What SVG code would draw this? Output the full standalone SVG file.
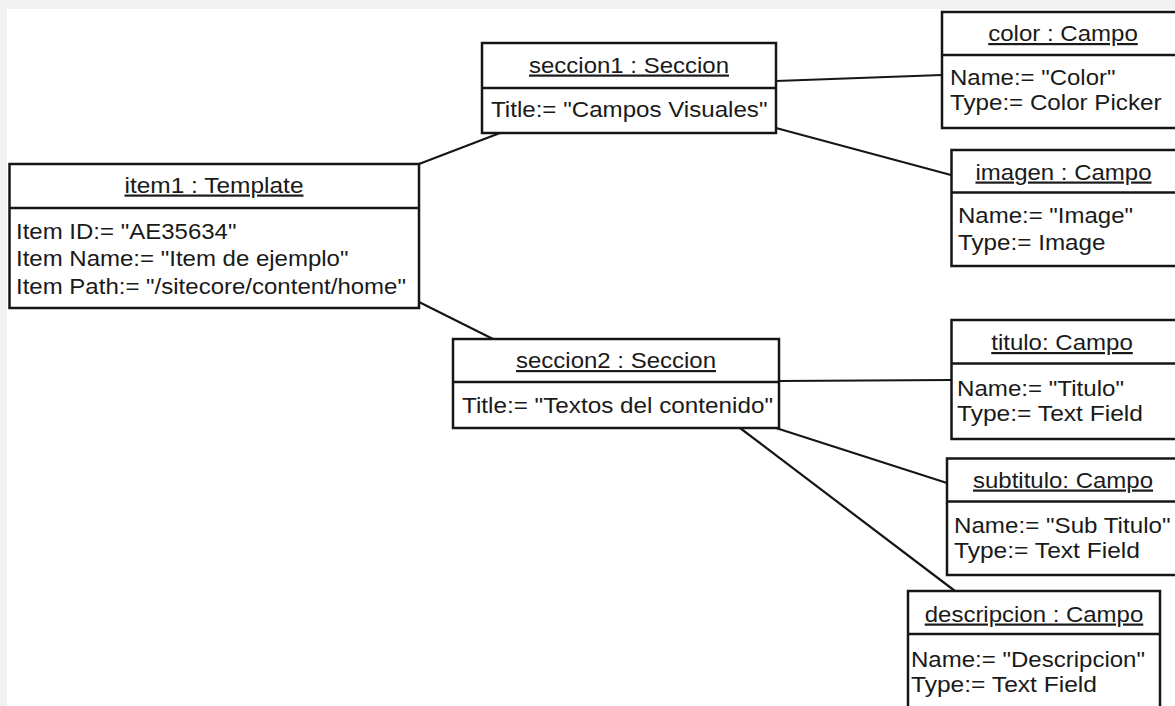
<svg xmlns="http://www.w3.org/2000/svg" width="1175" height="706" viewBox="0 0 1175 706">
  <style>
    .box { fill: #ffffff; stroke: #161616; stroke-width: 2.5; }
    .div { stroke: #161616; stroke-width: 2.5; }
    .link { stroke: #161616; stroke-width: 2.2; fill: none; stroke-linecap: round; }
    text { font-family: "Liberation Sans", Arial, sans-serif; font-size: 22px; fill: #1a1a1a; }
    .name { text-anchor: middle; text-decoration: underline; }
  </style>

  <!-- page with a pale frame along top and left -->
  <rect x="0" y="0" width="1175" height="706" fill="#f1f1f1"/>
  <rect x="7" y="9" width="1168" height="697" fill="#ffffff"/>

  <!-- associations -->
  <g id="connectors">
    <line class="link" x1="419" y1="164" x2="500" y2="133"/>
    <line class="link" x1="419" y1="302" x2="493" y2="339"/>
    <line class="link" x1="776" y1="81" x2="942" y2="75"/>
    <line class="link" x1="776" y1="128" x2="951" y2="175"/>
    <line class="link" x1="779" y1="381" x2="951" y2="380"/>
    <line class="link" x1="776" y1="428" x2="947" y2="483"/>
    <line class="link" x1="740" y1="428" x2="955" y2="591"/>
  </g>

  <g id="item1">
    <rect class="box" x="9.5" y="164" width="409.5" height="144"/>
    <line class="div" x1="9.5" y1="208" x2="419" y2="208"/>
    <text class="name" x="214" y="192.5" textLength="179" lengthAdjust="spacingAndGlyphs">item1 : Template</text>
    <text x="16" y="238.5" textLength="220.5" lengthAdjust="spacingAndGlyphs">Item ID:= "AE35634"</text>
    <text x="16" y="266" textLength="332.5" lengthAdjust="spacingAndGlyphs">Item Name:= "Item de ejemplo"</text>
    <text x="16" y="293.5" textLength="390" lengthAdjust="spacingAndGlyphs">Item Path:= "/sitecore/content/home"</text>
  </g>

  <g id="seccion1">
    <rect class="box" x="482" y="43" width="294" height="90"/>
    <line class="div" x1="482" y1="88" x2="776" y2="88"/>
    <text class="name" x="629" y="72.5" textLength="200" lengthAdjust="spacingAndGlyphs">seccion1 : Seccion</text>
    <text x="491" y="117" textLength="276.5" lengthAdjust="spacingAndGlyphs">Title:= "Campos Visuales"</text>
  </g>

  <g id="seccion2">
    <rect class="box" x="453" y="339" width="326" height="89"/>
    <line class="div" x1="453" y1="382" x2="779" y2="382"/>
    <text class="name" x="616" y="368" textLength="200" lengthAdjust="spacingAndGlyphs">seccion2 : Seccion</text>
    <text x="462" y="413" textLength="311" lengthAdjust="spacingAndGlyphs">Title:= "Textos del contenido"</text>
  </g>

  <g id="color">
    <rect class="box" x="942" y="12" width="242" height="116"/>
    <line class="div" x1="942" y1="55" x2="1184" y2="55"/>
    <text class="name" x="1063" y="41" textLength="149.5" lengthAdjust="spacingAndGlyphs">color : Campo</text>
    <text x="950" y="85" textLength="165.5" lengthAdjust="spacingAndGlyphs">Name:= "Color"</text>
    <text x="950" y="109.5" textLength="211.5" lengthAdjust="spacingAndGlyphs">Type:= Color Picker</text>
  </g>

  <g id="imagen">
    <rect class="box" x="951.5" y="150" width="240" height="116"/>
    <line class="div" x1="951.5" y1="192.5" x2="1191.5" y2="192.5"/>
    <text class="name" x="1063.5" y="179.5" textLength="176" lengthAdjust="spacingAndGlyphs">imagen : Campo</text>
    <text x="958" y="223" textLength="175" lengthAdjust="spacingAndGlyphs">Name:= "Image"</text>
    <text x="958" y="250" textLength="147.5" lengthAdjust="spacingAndGlyphs">Type:= Image</text>
  </g>

  <g id="titulo">
    <rect class="box" x="951.5" y="320" width="240" height="119"/>
    <line class="div" x1="951.5" y1="363.5" x2="1191.5" y2="363.5"/>
    <text class="name" x="1062" y="350" textLength="141.5" lengthAdjust="spacingAndGlyphs">titulo: Campo</text>
    <text x="957" y="396" textLength="167" lengthAdjust="spacingAndGlyphs">Name:= "Titulo"</text>
    <text x="957" y="421" textLength="186" lengthAdjust="spacingAndGlyphs">Type:= Text Field</text>
  </g>

  <g id="subtitulo">
    <rect class="box" x="947" y="458.5" width="240" height="116.5"/>
    <line class="div" x1="947" y1="501.5" x2="1187" y2="501.5"/>
    <text class="name" x="1063" y="487.5" textLength="180" lengthAdjust="spacingAndGlyphs">subtitulo: Campo</text>
    <text x="954" y="533" textLength="216.5" lengthAdjust="spacingAndGlyphs">Name:= "Sub Titulo"</text>
    <text x="954" y="558" textLength="186" lengthAdjust="spacingAndGlyphs">Type:= Text Field</text>
  </g>

  <g id="descripcion">
    <rect class="box" x="908" y="591" width="252" height="130"/>
    <line class="div" x1="908" y1="634" x2="1160" y2="634"/>
    <text class="name" x="1034" y="621.5" textLength="218.5" lengthAdjust="spacingAndGlyphs">descripcion : Campo</text>
    <text x="911" y="667" textLength="234" lengthAdjust="spacingAndGlyphs">Name:= "Descripcion"</text>
    <text x="911" y="692" textLength="186" lengthAdjust="spacingAndGlyphs">Type:= Text Field</text>
  </g>
</svg>
